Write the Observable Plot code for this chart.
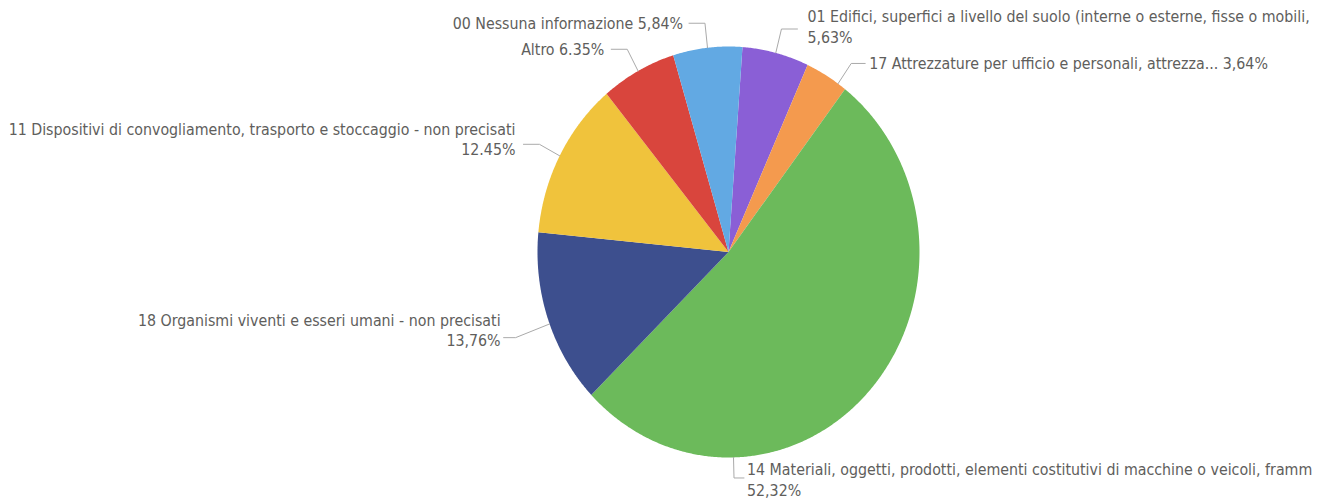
<!DOCTYPE html>
<html>
<head>
<meta charset="utf-8">
<script src="https://cdn.jsdelivr.net/npm/d3@7"></script>
<script src="https://cdn.jsdelivr.net/npm/@observablehq/plot@0.6"></script>
<style>
  html, body { margin: 0; padding: 0; background: #fff; overflow: hidden; }
  #chart svg { display: block; }
</style>
</head>
<body>
<div id="chart"></div>
<script>
// ---- data ----
const categories = [
  "01 Edifici, superfici a livello del suolo (interne o esterne, fisse o mobili,",
  "17 Attrezzature per ufficio e personali, attrezza...",
  "14 Materiali, oggetti, prodotti, elementi costitutivi di macchine o veicoli, framm",
  "18 Organismi viventi e esseri umani - non precisati",
  "11 Dispositivi di convogliamento, trasporto e stoccaggio - non precisati",
  "Altro",
  "00 Nessuna informazione"
];
const values = [5.63, 3.64, 52.32, 13.76, 12.45, 6.35, 5.84];
const valueLabels = ["5,63%", "3,64%", "52,32%", "13,76%", "12.45%", "6.35%", "5,84%"];
const colors = ["#8a5fd6", "#f49a4e", "#6cba5b", "#3d4f8e", "#f0c33c", "#d9453d", "#62a9e3"];

// ---- layout (style / position only) ----
const W = 1322, H = 499;
const cx = 728, cy = 251.5, rx = 191, ry = 205.5;
const startDeg = 4.2;
// per-label: separator, optional leader angle override (deg), elbow radius,
// horizontal leader length (px), gap to text (px), text vertical shift (px)
const labelLayout = [
  {sep: "\n", r: 1.12, h: 16, gap: 10, dy: -3},
  {sep: " ",  r: 1.12, h: 14, gap: 4,  dy: -1, angle: 35},
  {sep: "\n", r: 1.10, h: 10, gap: 3,  dy: 1, angle: 178.5, side: 1},
  {sep: "\n", r: 1.19, h: 12, gap: 3,  dy: -8, angle: 249.5},
  {sep: "\n", r: 1.12, h: 16, gap: 8,  dy: -6},
  {sep: " ",  r: 1.12, h: 16, gap: 7,  dy: -1},
  {sep: " ",  r: 1.12, h: 16, gap: 6,  dy: -1}
];
const fontSize = 15.8;

// ---- build geometry from data ----
const rad = Math.PI / 180;
const arcs = d3.pie().sort(null)
  .startAngle(startDeg * rad).endAngle(startDeg * rad + 2 * Math.PI)(values);

const slicePts = [];
arcs.forEach((a, i) => {
  const cat = categories[i];
  slicePts.push({cat, x: 0, y: 0});
  const n = Math.max(2, Math.ceil((a.endAngle - a.startAngle) / (0.4 * rad)));
  for (let k = 0; k <= n; k++) {
    const t = a.startAngle + (a.endAngle - a.startAngle) * k / n;
    slicePts.push({cat, x: Math.sin(t), y: Math.cos(t)});
  }
});

const kx = 1 / rx, ky = 1 / ry; // data units per px
const leaderPts = [];
const labelPts = [];
arcs.forEach((a, i) => {
  const L = labelLayout[i];
  const ang = L.angle != null ? L.angle * rad : (a.startAngle + a.endAngle) / 2;
  const sx = Math.sin(ang), sy = Math.cos(ang);
  const side = L.side != null ? L.side : (sx >= 0 ? 1 : -1);
  const ex = sx * L.r, ey = sy * L.r;
  const endx = ex + side * L.h * kx;
  leaderPts.push({i, x: sx, y: sy});
  leaderPts.push({i, x: ex, y: ey});
  leaderPts.push({i, x: endx, y: ey});
  labelPts.push({
    x: endx + side * L.gap * kx,
    y: ey - L.dy * ky,
    text: categories[i] + L.sep + valueLabels[i],
    anchor: side > 0 ? "start" : "end"
  });
});

const textOpts = {
  x: "x", y: "y", text: "text",
  lineAnchor: "middle",
  lineHeight: 1.3,
  fontSize,
  fill: "#605e5c",
  fontFamily: "'Liberation Sans Narrow', 'DejaVu Sans Condensed', 'Roboto', sans-serif"
};

const chart = Plot.plot({
  width: W, height: H,
  marginLeft: cx - rx, marginRight: W - (cx + rx),
  marginTop: cy - ry, marginBottom: H - (cy + ry),
  x: {domain: [-1, 1], axis: null},
  y: {domain: [-1, 1], axis: null},
  color: {domain: categories, range: colors},
  marks: [
    Plot.line(slicePts, {x: "x", y: "y", z: "cat", fill: "cat", stroke: "none", curve: "linear-closed"}),
    Plot.line(leaderPts, {x: "x", y: "y", z: "i", stroke: "#aaaaaa", strokeWidth: 1}),
    Plot.text(labelPts.filter(d => d.anchor === "start"), {...textOpts, textAnchor: "start"}),
    Plot.text(labelPts.filter(d => d.anchor === "end"), {...textOpts, textAnchor: "end"})
  ]
});
document.getElementById("chart").appendChild(chart);
</script>
</body>
</html>
